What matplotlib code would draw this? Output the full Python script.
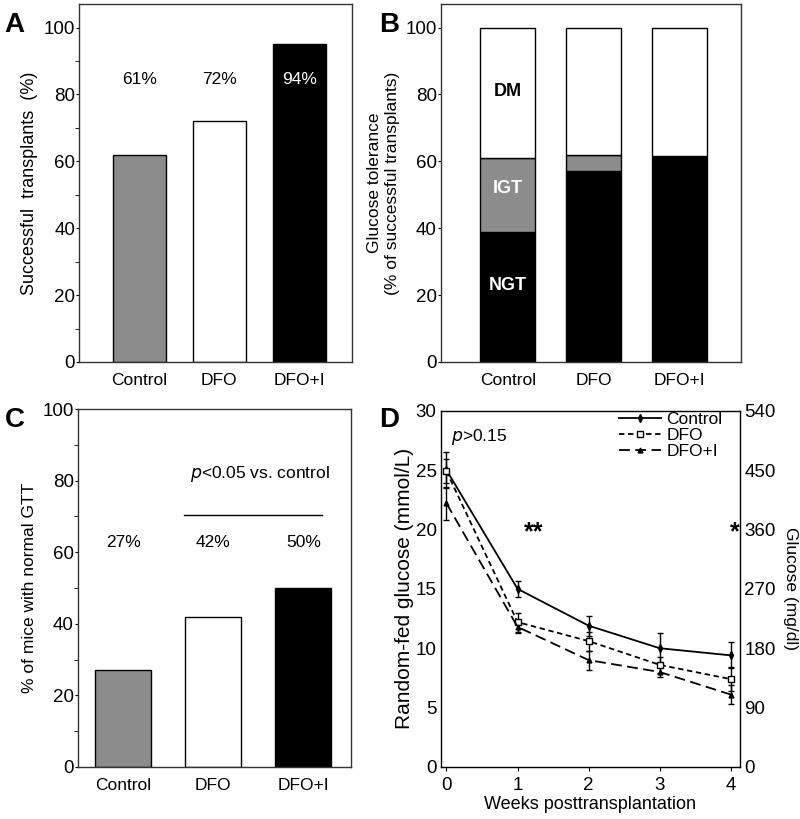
import numpy as np
import matplotlib
matplotlib.use("Agg")
import matplotlib.pyplot as plt
from matplotlib.ticker import MultipleLocator

plt.rcParams['font.family'] = ['Liberation Sans', 'DejaVu Sans']

# Panel A: successful transplants (%)
groups = ["Control", "DFO", "DFO+I"]
success = [62, 72, 95]
success_labels = ["61%", "72%", "94%"]

# Panel B: glucose tolerance of successful transplants (%)
ngt = [39, 57, 61.5]
igt = [22, 5, 0]
dm = [39, 38, 38.5]

# Panel C: % of mice with normal GTT
normal_gtt = [27, 42, 50]
normal_labels = ["27%", "42%", "50%"]

# Panel D: random-fed glucose (mmol/L) over weeks
weeks = [0, 1, 2, 3, 4]
ctrl_glu = [25.0, 15.0, 11.9, 10.0, 9.4]
ctrl_err = [1.5, 0.7, 0.85, 1.3, 1.1]
dfo_glu = [24.9, 12.2, 10.6, 8.6, 7.4]
dfo_err = [1.0, 0.8, 0.8, 0.7, 1.0]
dfoi_glu = [22.2, 11.8, 9.0, 8.0, 6.1]
dfoi_err = [1.4, 0.5, 0.8, 0.4, 0.8]

bar_colors = ["#8c8c8c", "white", "black"]
fs_tick = 13.5
fs_lab = 12.5

fig = plt.figure(figsize=(8, 8.19), dpi=100)


def style_bar_axes(ax, minor=True):
    for s in ax.spines.values():
        s.set_linewidth(1.0)
        s.set_color("#333333")
    ax.tick_params(axis="x", length=0, pad=8, labelsize=fs_lab)
    ax.tick_params(axis="y", which="major", length=2, pad=1, labelsize=fs_tick)
    if minor:
        ax.yaxis.set_minor_locator(MultipleLocator(10))
        ax.tick_params(axis="y", which="minor", length=3)


# A
axA = fig.add_axes([0.099, 0.558, 0.341, 0.437])
x = np.arange(3)
axA.bar(x, success, width=0.66, color=bar_colors, edgecolor="black", linewidth=1)
for xi, lab, c in zip(x, success_labels, ["black", "black", "white"]):
    axA.text(xi, 84.5, lab, ha="center", va="center", fontsize=fs_lab, color=c)
axA.set_xlim(-0.75, 2.66)
axA.set_ylim(0, 107)
axA.set_yticks([0, 20, 40, 60, 80, 100])
axA.set_xticks(x)
axA.set_xticklabels(groups)
axA.set_ylabel("Successful  transplants  (%)", fontsize=13, labelpad=4)
style_bar_axes(axA)
fig.text(0.006, 0.985, "A", fontsize=20, fontweight="bold", va="top")

# B
axB = fig.add_axes([0.551, 0.558, 0.375, 0.437])
axB.bar(x, ngt, width=0.64, color="black", edgecolor="black", linewidth=1)
axB.bar(x, igt, width=0.64, bottom=ngt, color="#8c8c8c", edgecolor="black", linewidth=1)
axB.bar(x, dm, width=0.64, bottom=np.array(ngt) + np.array(igt), color="white",
        edgecolor="black", linewidth=1)
axB.text(0, 81, "DM", ha="center", va="center", fontsize=13, fontweight="bold", color="black")
axB.text(0, 52, "IGT", ha="center", va="center", fontsize=13, fontweight="bold", color="white")
axB.text(0, 23, "NGT", ha="center", va="center", fontsize=13, fontweight="bold", color="white")
axB.set_xlim(-0.78, 2.71)
axB.set_ylim(0, 107)
axB.set_yticks([0, 20, 40, 60, 80, 100])
axB.set_xticks(x)
axB.set_xticklabels(groups)
axB.set_ylabel("Glucose tolerance\n(% of successful transplants)", fontsize=fs_lab, labelpad=4)
style_bar_axes(axB, minor=False)
fig.text(0.474, 0.985, "B", fontsize=20, fontweight="bold", va="top")

# C
axC = fig.add_axes([0.0975, 0.0635, 0.3415, 0.437])
axC.bar(x, normal_gtt, width=0.62, color=bar_colors, edgecolor="black", linewidth=1)
for xi, lab in zip(x, normal_labels):
    axC.text(xi, 62.7, lab, ha="center", va="center", fontsize=fs_lab)
axC.plot([0.68, 2.21], [70.4, 70.4], color="black", lw=1)
axC.text(1.52, 82, r"$\it{p}$<0.05 vs. control", ha="center", va="center", fontsize=fs_lab)
axC.set_xlim(-0.5, 2.53)
axC.set_ylim(0, 100)
axC.set_yticks([0, 20, 40, 60, 80, 100])
axC.set_xticks(x)
axC.set_xticklabels(groups)
axC.set_ylabel("% of mice with normal GTT", fontsize=fs_lab, labelpad=4)
style_bar_axes(axC)
fig.text(0.006, 0.503, "C", fontsize=20, fontweight="bold", va="top")

# D
axD = fig.add_axes([0.551, 0.0635, 0.374, 0.435])
ebkw = dict(fmt="none", capsize=2, elinewidth=1, capthick=1, ecolor="black")
axD.errorbar(weeks, ctrl_glu, yerr=ctrl_err, **ebkw)
axD.errorbar(weeks, dfo_glu, yerr=dfo_err, **ebkw)
axD.errorbar(weeks, dfoi_glu, yerr=dfoi_err, **ebkw)
axD.plot(weeks, ctrl_glu, "-", marker="d", ms=4, lw=1.3, color="black", label="Control")
axD.plot(weeks, dfo_glu, "--", marker="s", ms=4, mfc="white", lw=1.3, dashes=(3, 2),
         color="black", label="DFO")
axD.plot(weeks, dfoi_glu, "--", marker="^", ms=3.5, lw=1.3, dashes=(6, 3),
         color="black", label="DFO+I")
axD.text(0.06, 27.8, r"$\it{p}$>0.15", fontsize=fs_lab, va="center", ha="left")
axD.text(1.22, 19.8, "**", fontsize=18, fontweight="bold", ha="center", va="center")
axD.text(4.05, 19.8, "*", fontsize=18, fontweight="bold", ha="center", va="center")
axD.set_xlim(-0.08, 4.13)
axD.set_ylim(0, 30)
axD.set_xticks(weeks)
axD.set_yticks([0, 5, 10, 15, 20, 25, 30])
axD.set_xlabel("Weeks posttransplantation", fontsize=13, labelpad=2)
axD.set_ylabel("Random-fed glucose (mmol/L)", fontsize=15, labelpad=1)
for s in axD.spines.values():
    s.set_linewidth(1.0)
    s.set_color("#333333")
axD.tick_params(axis="y", length=0, pad=3, labelsize=fs_tick)
axD.tick_params(axis="x", length=3, pad=4, labelsize=fs_tick)
axR = axD.twinx()
axR.set_ylim(0, 540)
axR.set_yticks([0, 90, 180, 270, 360, 450, 540])
axR.tick_params(axis="y", length=0, pad=3, labelsize=fs_tick)
axR.set_ylabel("Glucose (mg/dl)", fontsize=fs_lab, rotation=270, labelpad=16)
leg = axD.legend(loc="upper right", frameon=False, fontsize=fs_lab, handlelength=2.4,
                 borderaxespad=0.1, labelspacing=0.05, handletextpad=0.3,
                 bbox_to_anchor=(0.97, 1.02))
fig.text(0.474, 0.503, "D", fontsize=20, fontweight="bold", va="top")

fig.savefig("out.png", dpi=100)
